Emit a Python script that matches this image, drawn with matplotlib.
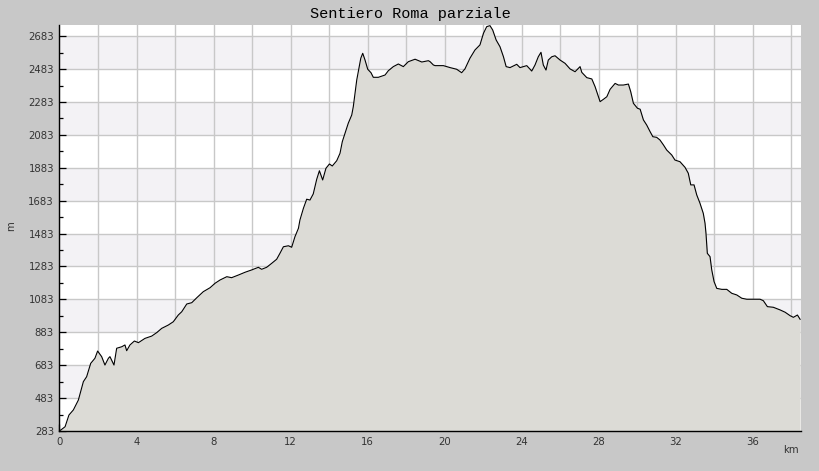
import matplotlib
matplotlib.use("Agg")
import matplotlib.pyplot as plt
from matplotlib.ticker import MultipleLocator, FixedLocator, FuncFormatter

title = "Sentiero Roma parziale"
x_label = "km"
y_label = "m"

km = [0.00, 0.08, 0.29, 0.49, 0.72, 0.98, 1.24, 1.41, 1.62, 1.84, 1.98, 2.19, 2.36, 2.54,
      2.62, 2.83, 2.97, 3.23, 3.40, 3.49, 3.66, 3.89, 4.10, 4.44, 4.79, 5.05, 5.31, 5.65,
      5.91, 6.17, 6.35, 6.61, 6.87, 7.13, 7.47, 7.82, 8.08, 8.34, 8.69, 8.94, 9.29, 9.64,
      9.98, 10.33, 10.50, 10.76, 11.02, 11.28, 11.45, 11.63, 11.89, 12.06, 12.23, 12.41,
      12.49, 12.67, 12.84, 13.01, 13.18, 13.36, 13.50, 13.67, 13.84, 14.02, 14.17, 14.40,
      14.57, 14.69, 14.83, 15.00, 15.18, 15.26, 15.35, 15.44, 15.52, 15.65, 15.75, 15.87,
      16.01, 16.18, 16.30, 16.56, 16.91, 17.08, 17.34, 17.60, 17.86, 18.12, 18.47, 18.82,
      19.16, 19.25, 19.42, 19.51, 19.94, 20.29, 20.63, 20.89, 21.06, 21.32, 21.58, 21.84,
      22.02, 22.19, 22.36, 22.50, 22.68, 22.88, 23.06, 23.20, 23.40, 23.75, 23.92, 24.27,
      24.53, 24.70, 24.87, 25.01, 25.13, 25.27, 25.39, 25.57, 25.74, 26.00, 26.26, 26.52,
      26.78, 27.04, 27.13, 27.39, 27.65, 27.82, 28.08, 28.25, 28.43, 28.60, 28.86, 29.03,
      29.29, 29.55, 29.67, 29.81, 30.02, 30.16, 30.33, 30.50, 30.68, 30.82, 31.02, 31.19,
      31.37, 31.54, 31.80, 31.97, 32.23, 32.49, 32.66, 32.79, 32.96, 33.10, 33.27, 33.44,
      33.53, 33.58, 33.65, 33.79, 33.88, 34.00, 34.14, 34.40, 34.66, 34.92, 35.18, 35.44,
      35.70, 36.04, 36.39, 36.56, 36.77, 37.08, 37.43, 37.69, 37.95, 38.12, 38.33, 38.47]

elev = [285, 290, 309, 380, 411, 471, 583, 613, 694, 725, 769, 735, 684, 725,
        735, 684, 786, 795, 806, 771, 806, 830, 820, 846, 860, 881, 907, 927,
        947, 988, 1008, 1055, 1063, 1093, 1130, 1154, 1181, 1201, 1221, 1215, 1231, 1248,
        1262, 1278, 1266, 1278, 1302, 1327, 1363, 1403, 1409, 1400, 1464, 1515,
        1566, 1637, 1692, 1687, 1724, 1813, 1865, 1809, 1880, 1906, 1894, 1926,
        1971, 2042, 2093, 2154, 2204, 2254, 2336, 2417, 2467, 2549, 2579, 2538,
        2482, 2461, 2433, 2433, 2447, 2473, 2498, 2514, 2498, 2528, 2543, 2526,
        2534, 2528, 2508, 2504, 2504, 2492, 2482, 2461, 2484, 2549, 2599, 2630,
        2700, 2741, 2747, 2721, 2660, 2619, 2558, 2498, 2492, 2512, 2492, 2504,
        2471, 2508, 2558, 2585, 2508, 2477, 2538, 2558, 2564, 2538, 2518, 2484,
        2467, 2498, 2463, 2431, 2423, 2376, 2285, 2299, 2315, 2360, 2396, 2386,
        2386, 2392, 2346, 2275, 2245, 2239, 2174, 2143, 2102, 2072, 2068, 2052,
        2022, 1991, 1961, 1930, 1920, 1886, 1850, 1779, 1779, 1718, 1667, 1606,
        1546, 1485, 1363, 1343, 1262, 1191, 1150, 1144, 1144, 1120, 1110, 1090,
        1084, 1084, 1084, 1075, 1039, 1035, 1019, 1005, 984, 974, 988, 962]

y_ticks = [283, 483, 683, 883, 1083, 1283, 1483, 1683, 1883, 2083, 2283, 2483, 2683]
x_tick_labels = [0, 4, 8, 12, 16, 20, 24, 28, 32, 36]

BG = "#c8c8c8"
fig = plt.figure(figsize=(8.2, 4.71), dpi=100, facecolor=BG)
ax = fig.add_axes([59.5 / 820, 40 / 471, (800.7 - 59.5) / 820, (431 - 25) / 471])
ax.set_facecolor("white")

ymin, ymax = 283, 2751
xmin, xmax = 0, 38.5
ax.set_xlim(xmin, xmax)
ax.set_ylim(ymin, ymax)

# alternating bands
for i in range(len(y_ticks) - 1):
    if i % 2 == 1:
        ax.axhspan(y_ticks[i], y_ticks[i + 1], color="#f3f2f5", lw=0, zorder=0)

ax.set_axisbelow(True)
ax.grid(True, which="major", color="#c8c8c8", lw=1.0, zorder=0.5)

ax.fill_between(km, elev, ymin, color="#dcdbd6", lw=0, zorder=2)
ax.plot(km, elev, color="black", lw=0.8, zorder=3)

ax.yaxis.set_major_locator(FixedLocator(y_ticks))
ax.yaxis.set_minor_locator(FixedLocator([v + 100 for v in y_ticks]))
ax.xaxis.set_major_locator(MultipleLocator(2))
ax.xaxis.set_minor_locator(MultipleLocator(1))
ax.xaxis.set_major_formatter(FuncFormatter(
    lambda v, p: (str(int(round(v))) if int(round(v)) in x_tick_labels else "")))

ax.tick_params(axis="both", which="major", direction="in", length=5, width=0.9,
               colors="black", labelcolor="#333333", labelsize=7.3)
ax.tick_params(axis="both", which="minor", direction="in", length=3, width=0.9, colors="black")
ax.tick_params(axis="y", pad=4)
ax.tick_params(axis="x", pad=4)

for s in ["top", "right"]:
    ax.spines[s].set_visible(False)
for s in ["left", "bottom"]:
    ax.spines[s].set_color("black")
    ax.spines[s].set_linewidth(1.0)
    ax.spines[s].set_zorder(5)

fig.text(410 / 820, 1 - 14 / 471, title, ha="center", va="center",
         family="Liberation Mono", fontsize=11, color="black")
fig.text(11 / 820, 1 - 226 / 471, y_label, ha="center", va="center", rotation=90,
         fontsize=7.3, color="#333333")
fig.text(791 / 820, 1 - 450 / 471, x_label, ha="center", va="center",
         fontsize=7.3, color="#333333")

fig.savefig("out.png", dpi=100, facecolor=BG)
